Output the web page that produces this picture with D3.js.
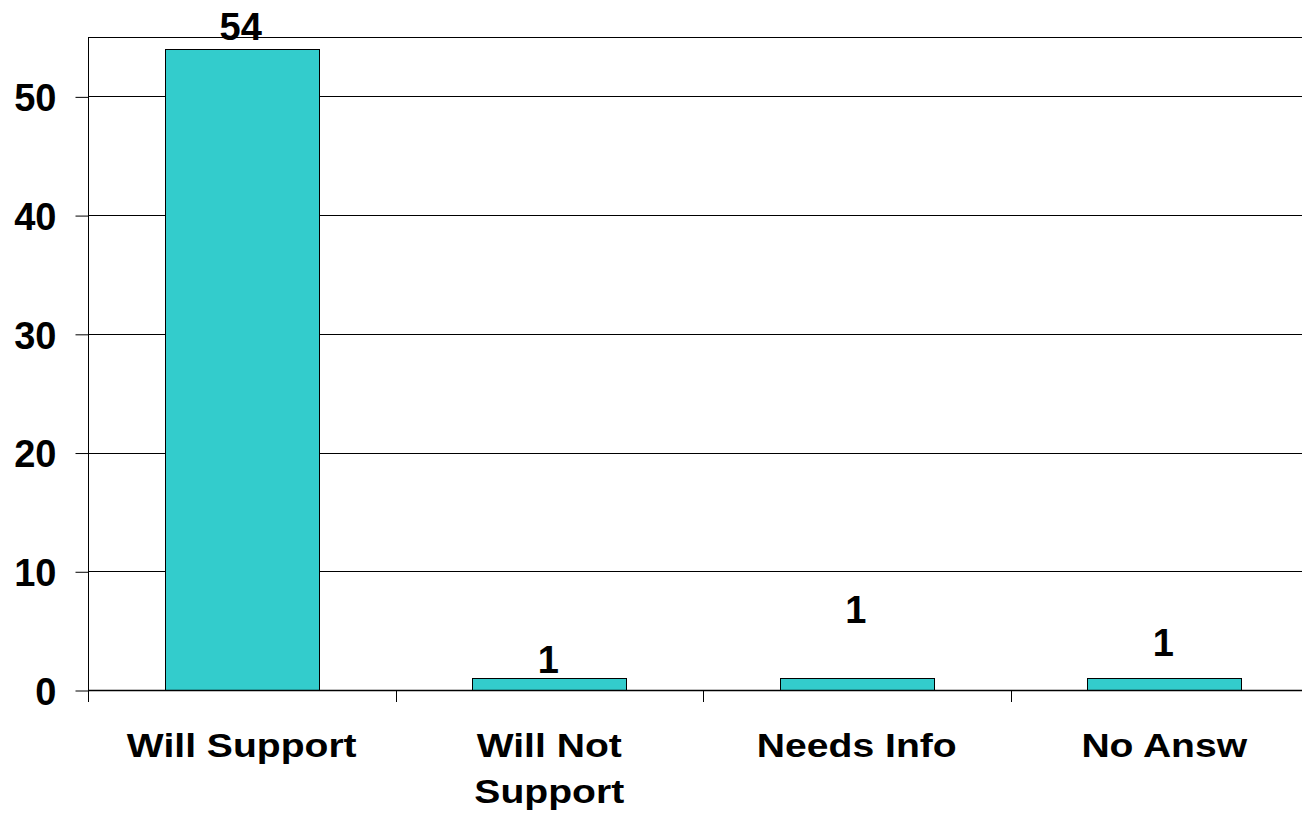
<!DOCTYPE html>
<html>
<head>
<meta charset="utf-8">
<script src="https://cdn.jsdelivr.net/npm/d3@7"></script>
<style>
  html, body { margin: 0; padding: 0; background: #ffffff; }
  svg { display: block; font-family: "Liberation Sans", Arial, sans-serif; font-weight: bold; }
</style>
</head>
<body>
<svg id="chart" width="1302" height="817"></svg>
<script>
// Survey responses
const categories = ["Will Support", "Will Not Support", "Needs Info", "No Answ"];
const categoryLines = [["Will Support"], ["Will Not", "Support"], ["Needs Info"], ["No Answ"]];
const counts = [54, 1, 1, 1];
const yTicks = [0, 10, 20, 30, 40, 50];
const yMax = 55;

// Layout
const plot = { left: 88, top: 37, bottom: 690, right: 1318 };
const labelLift = [9, 5, 55, 22];   // distance of each value label above its bar

const svg = d3.select("#chart");

const x = d3.scaleBand()
  .domain(categories)
  .range([plot.left, plot.right])
  .paddingInner(0.5)
  .paddingOuter(0.25);

const y = d3.scaleLinear()
  .domain([0, yMax])
  .range([plot.bottom, plot.top]);

// Horizontal gridlines and top frame
svg.append("g")
  .selectAll("line")
  .data(yTicks.filter(d => d > 0).concat([yMax]))
  .join("line")
  .attr("x1", plot.left)
  .attr("x2", plot.right)
  .attr("y1", d => Math.round(y(d)) + 0.5)
  .attr("y2", d => Math.round(y(d)) + 0.5)
  .attr("stroke", "#000")
  .attr("stroke-width", 1);

// Bars
svg.append("g")
  .selectAll("rect")
  .data(counts)
  .join("rect")
  .attr("x", (d, i) => Math.round(x(categories[i])) + 0.5)
  .attr("y", d => Math.round(y(d)) + 0.5)
  .attr("width", Math.round(x.bandwidth()))
  .attr("height", d => Math.round(y(0)) - Math.round(y(d)))
  .attr("fill", "#33CCCC")
  .attr("stroke", "#000")
  .attr("stroke-width", 1);

// Value labels
svg.append("g")
  .selectAll("text")
  .data(counts)
  .join("text")
  .attr("x", (d, i) => x(categories[i]) + x.bandwidth() / 2 - 1)
  .attr("y", (d, i) => y(d) - labelLift[i])
  .attr("text-anchor", "middle")
  .attr("font-size", 38)
  .attr("fill", "#000")
  .text(d => d);

// Y axis
const yAxis = svg.append("g")
  .attr("transform", `translate(${plot.left + 0.5},0.5)`)
  .call(d3.axisLeft(y).tickValues(yTicks).tickSize(13).tickPadding(19).tickSizeOuter(0));
yAxis.select(".domain").attr("stroke", "#000");
yAxis.selectAll(".tick line").attr("stroke", "#000");
yAxis.selectAll(".tick text")
  .attr("font-size", 38)
  .attr("font-family", "'Liberation Sans', Arial, sans-serif")
  .attr("font-weight", "bold")
  .attr("fill", "#000")
  .attr("dy", "0.36em");
// extend axis line up to top frame
yAxis.select(".domain").attr("d", `M0,${plot.top}V${plot.bottom}`);

// X axis baseline with ticks at category boundaries
const xAxisG = svg.append("g");
xAxisG.append("line")
  .attr("x1", plot.left).attr("x2", plot.right)
  .attr("y1", Math.round(y(0)) + 0.5).attr("y2", Math.round(y(0)) + 0.5)
  .attr("stroke", "#000").attr("stroke-width", 1.5);
const boundaries = categories.map(c => x(c) - x.step() * x.paddingInner() / 2).concat([plot.right]);
xAxisG.selectAll("line.tick")
  .data(boundaries)
  .join("line")
  .attr("class", "tick")
  .attr("x1", d => Math.round(d) + 0.5).attr("x2", d => Math.round(d) + 0.5)
  .attr("y1", Math.round(y(0))).attr("y2", Math.round(y(0)) + 12)
  .attr("stroke", "#000");

// Category labels
const catG = svg.append("g")
  .selectAll("g")
  .data(categories)
  .join("g")
  .attr("transform", d => `translate(${x(d) + x.bandwidth() / 2},757) scale(1.15,1)`);
catG.append("text")
  .attr("text-anchor", "middle")
  .attr("font-size", 34)
  .attr("fill", "#000")
  .selectAll("tspan")
  .data((d, i) => categoryLines[i])
  .join("tspan")
  .attr("x", 0)
  .attr("dy", (d, i) => i === 0 ? 0 : 46)
  .text(d => d);
</script>
</body>
</html>
